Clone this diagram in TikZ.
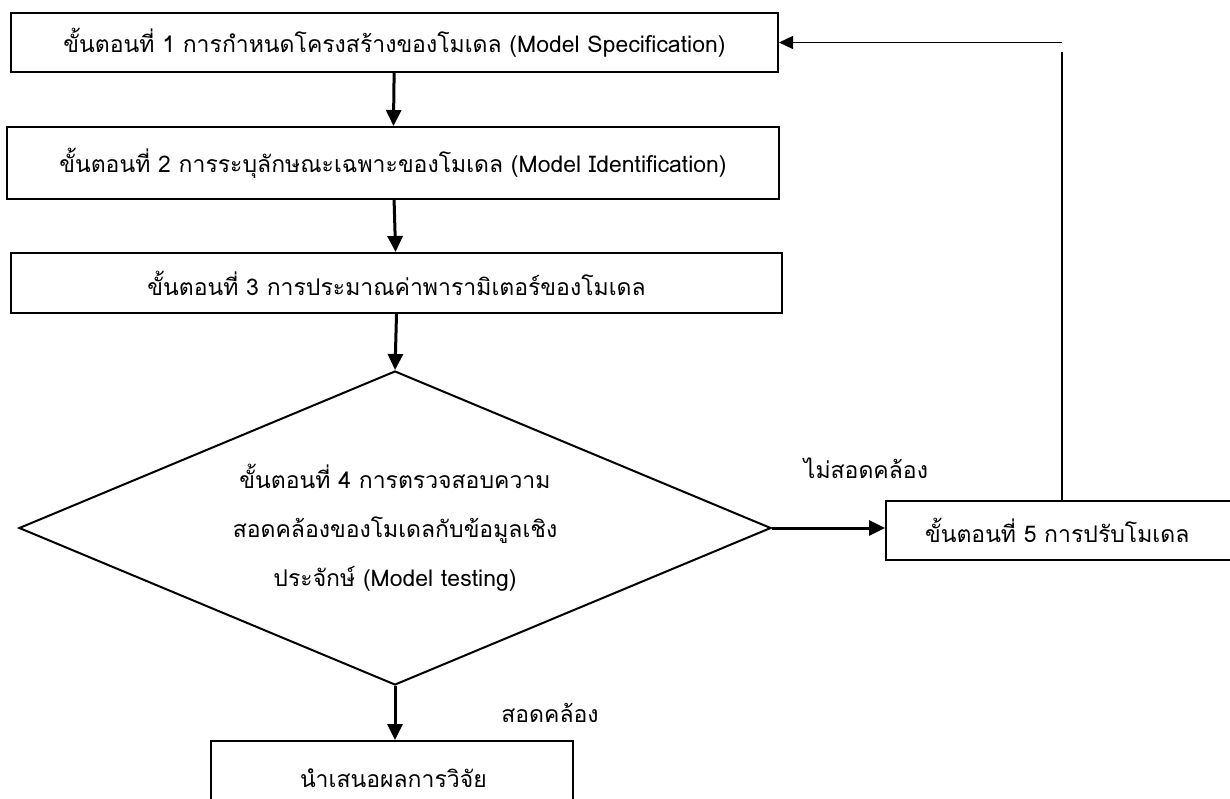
\documentclass[tikz,border=0pt]{standalone}
\usepackage{fontspec}
\setmainfont[Script=Thai]{Loma}
\usetikzlibrary{shapes.geometric,arrows.meta}
\begin{document}
\begin{tikzpicture}[x=1pt,y=1pt,
  font=\fontsize{23}{49}\selectfont,
  stepbox/.style={draw,line width=2pt,inner sep=0pt,minimum height=#1},
  stepbox/.default=60,
  testbox/.style={draw,diamond,line width=2pt,aspect=2.4,inner sep=0pt,
    minimum width=752,minimum height=314,align=center},
  flow/.style={line width=3pt,-{Triangle[length=16pt,width=15pt]}},
  back/.style={line width=1.3pt,-{Triangle[length=14pt,width=13pt]}}]
\useasboundingbox (0,0) rectangle (1230,-798);
\path
  (394.5,-42.5) node [stepbox=59,minimum width=767] (spec) {ขั้นตอนที่ 1 การกำหนดโครงสร้างของโมเดล (Model Specification)}
  (393,-163) node [stepbox=72,minimum width=772] (ident) {ขั้นตอนที่ 2 การระบุลักษณะเฉพาะของโมเดล (Model Identification)}
  (396.5,-283) node [stepbox=60,minimum width=771] (estim) {ขั้นตอนที่ 3 การประมาณค่าพารามิเตอร์ของโมเดล}
  (395,-528) node [testbox] (test) {ขั้นตอนที่ 4 การตรวจสอบความ\\สอดคล้องของโมเดลกับข้อมูลเชิง\\ประจักษ์ (Model testing)}
  (1066,-530.5) node [stepbox=59,minimum width=360,text width=282,align=left] (adjust) {ขั้นตอนที่ 5 การปรับโมเดล}
  (392,-778) node [stepbox=74,minimum width=362,text width=184,align=left] (report) {นำเสนอผลการวิจัย}
  (866,-468) node (nofit) {ไม่สอดคล้อง}
  (550,-713) node (fit) {สอดคล้อง};
\coordinate (upA) at (1062,-52);
\coordinate (upB) at (1062,-42.5);
\draw [flow] (spec) -- (ident);
\draw [flow] (ident) -- (estim);
\draw [flow] (estim.south) -- (test.north);
\draw [flow] (test.south) -- (report.north -| test.south);
\draw [flow] (test.east) -- (test.east -| adjust.west);
\draw [line width=1.3pt] (upA |- adjust.north) -- (upA);
\draw [back] (upB) -- (spec.east);
\end{tikzpicture}
\end{document}
